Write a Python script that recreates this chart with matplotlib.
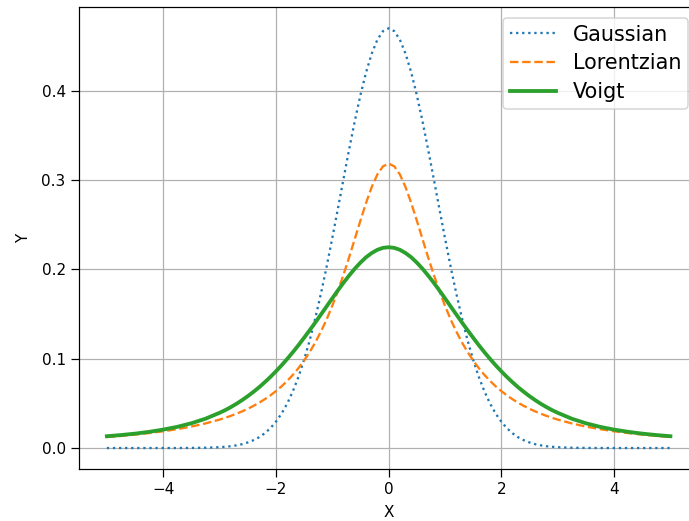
import matplotlib
matplotlib.use("Agg")
import matplotlib.pyplot as plt

# Profile values for x >= 0 (the curves are symmetric)
x_half = [0.0, 0.1, 0.2, 0.3, 0.4, 0.5, 0.6, 0.7, 0.8, 0.9, 1.0,
          1.1, 1.2, 1.3, 1.4, 1.5, 1.6, 1.7, 1.8, 1.9, 2.0,
          2.1, 2.2, 2.3, 2.4, 2.5, 2.6, 2.7, 2.8, 2.9, 3.0,
          3.25, 3.5, 3.75, 4.0, 4.25, 4.5, 4.75, 5.0]
gauss_half = [0.4697, 0.4665, 0.4569, 0.4413, 0.4204, 0.3950, 0.3660, 0.3344,
              0.3014, 0.2679, 0.2349, 0.2030, 0.1731, 0.1456, 0.1207, 0.0987,
              0.0796, 0.0634, 0.0497, 0.0385, 0.0294, 0.0221, 0.0164, 0.0120,
              0.0087, 0.0062, 0.0043, 0.0030, 0.0020, 0.0014, 0.0009,
              0.0003, 0.0001, 0.0, 0.0, 0.0, 0.0, 0.0, 0.0]
lorentz_half = [0.3183, 0.3152, 0.3061, 0.2920, 0.2744, 0.2546, 0.2341, 0.2136,
                0.1941, 0.1759, 0.1592, 0.1440, 0.1305, 0.1183, 0.1075, 0.0979,
                0.0894, 0.0818, 0.0751, 0.0690, 0.0637, 0.0588, 0.0545, 0.0506,
                0.0471, 0.0439, 0.0410, 0.0384, 0.0360, 0.0338, 0.0318,
                0.0275, 0.0240, 0.0211, 0.0187, 0.0167, 0.0150, 0.0135, 0.0122]
voigt_half = [0.2247, 0.2240, 0.2218, 0.2182, 0.2135, 0.2075, 0.2007, 0.1931,
              0.1850, 0.1764, 0.1675, 0.1585, 0.1495, 0.1406, 0.1319, 0.1234,
              0.1151, 0.1072, 0.0997, 0.0925, 0.0858, 0.0794, 0.0735, 0.0679,
              0.0628, 0.0580, 0.0536, 0.0495, 0.0458, 0.0424, 0.0394,
              0.0328, 0.0277, 0.0237, 0.0206, 0.0181, 0.0161, 0.0145, 0.0132]


def mirror(xs, ys):
    """Build the full symmetric curve from its right half."""
    x_full = [-v for v in xs[:0:-1]] + list(xs)
    y_full = list(ys[:0:-1]) + list(ys)
    return x_full, y_full


x, gauss = mirror(x_half, gauss_half)
_, lorentz = mirror(x_half, lorentz_half)
_, voigt = mirror(x_half, voigt_half)

DPI = 110
fig = plt.figure(figsize=(689 / DPI, 521 / DPI), dpi=DPI)
# right spine sits just past the image edge, as in the cropped reference
ax = fig.add_axes([0.1142, 0.0998, 0.8997, 0.8862])

ax.plot(x, gauss, linestyle=":", linewidth=1.5, label="Gaussian")
ax.plot(x, lorentz, linestyle="--", linewidth=1.5, label="Lorentzian")
ax.plot(x, voigt, linestyle="-", linewidth=2.5, label="Voigt")

ax.tick_params(length=5)
ax.set_xlabel("X", labelpad=5)
ax.set_ylabel("Y", labelpad=6.5)
ax.grid(True)
ax.legend(fontsize=13.6, labelspacing=0.42, borderpad=0.34, handlelength=2.2)

fig.savefig("out.png", dpi=DPI)
plt.close(fig)
